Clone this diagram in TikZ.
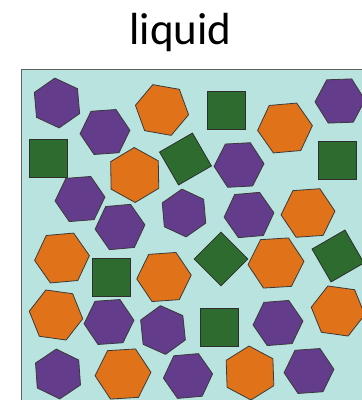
\documentclass[tikz,border=0pt]{standalone}
\usepackage{fontspec}
\setmainfont{Carlito}
\definecolor{bgc}{HTML}{B9E3DE}
\definecolor{pur}{HTML}{643C8C}
\definecolor{org}{HTML}{E07319}
\definecolor{grn}{HTML}{2E6B2E}
\definecolor{edg}{HTML}{3A3A3A}
\tikzset{
  hp/.style={fill=pur,draw=edg,line width=0.8pt,line join=round},
  ho/.style={fill=org,draw=edg,line width=0.8pt,line join=round},
  gs/.style={fill=grn,draw=edg!80!black,line width=0.8pt},
  frame/.style={fill=bgc,draw=edg!80,line width=1pt},
  title/.style={font=\fontsize{45}{50}\selectfont,anchor=base,inner sep=0pt}
}
\newcommand\hexg[5]{\draw[#1,shift={(#2,#3)}] ({-#5}:#4) -- ({-#5+60}:#4) -- ({-#5+120}:#4) -- ({-#5+180}:#4) -- ({-#5+240}:#4) -- ({-#5+300}:#4) -- cycle;}
\newcommand\sqbox[3]{\draw[gs,shift={(#1,#2)},rotate=#3] (-19,-19) rectangle (19,19);}
\begin{document}
\begin{tikzpicture}[x=1pt,y=-1pt]
\useasboundingbox (0,0) rectangle (362,400);
\clip (0,0) rectangle (362,400);
\node[title] (t) at (180.5,44) {liquid};
\draw[frame] (21,69) rectangle (380,420);
% row 1
\hexg{hp}{57}{103}{25}{35}
\hexg{hp}{105}{132}{25}{4}
\hexg{ho}{162}{110}{27}{50}
\sqbox{226.5}{110}{0}
\hexg{ho}{285}{128}{27.5}{5}
\hexg{hp}{340}{101}{25}{2}
% row 2
\sqbox{48.5}{158}{0}
\hexg{ho}{134.7}{175}{27.5}{31}
\sqbox{185.5}{159}{30}
\hexg{hp}{239}{165}{25}{3}
\sqbox{337}{160}{0}
% row 3
\hexg{hp}{80}{199}{25}{4.5}
\hexg{hp}{120}{227}{25}{5}
\hexg{hp}{184}{213}{24}{35}
\hexg{hp}{249}{215}{25}{5}
\hexg{ho}{308}{213}{27}{4}
% row 4
\hexg{ho}{62}{258}{27.5}{5}
\sqbox{111}{277.5}{0}
\hexg{ho}{164}{277}{27.3}{4}
\sqbox{221}{259}{45}
\hexg{ho}{276}{263}{28}{3.5}
\sqbox{338}{256}{30}
% row 5
\hexg{ho}{56}{315}{27}{52}
\hexg{hp}{109}{322}{25}{4}
\hexg{hp}{163}{330}{24.5}{36}
\sqbox{219.5}{327.5}{0}
\hexg{hp}{278}{323}{25}{4.5}
\hexg{ho}{338}{311}{27}{52}
% row 6
\hexg{hp}{58}{374}{25}{34}
\hexg{ho}{123}{374}{28}{3.5}
\hexg{hp}{188}{376}{24.7}{5}
\hexg{ho}{250}{373}{27}{32}
\hexg{hp}{309}{371}{25}{4}
\end{tikzpicture}
\end{document}
